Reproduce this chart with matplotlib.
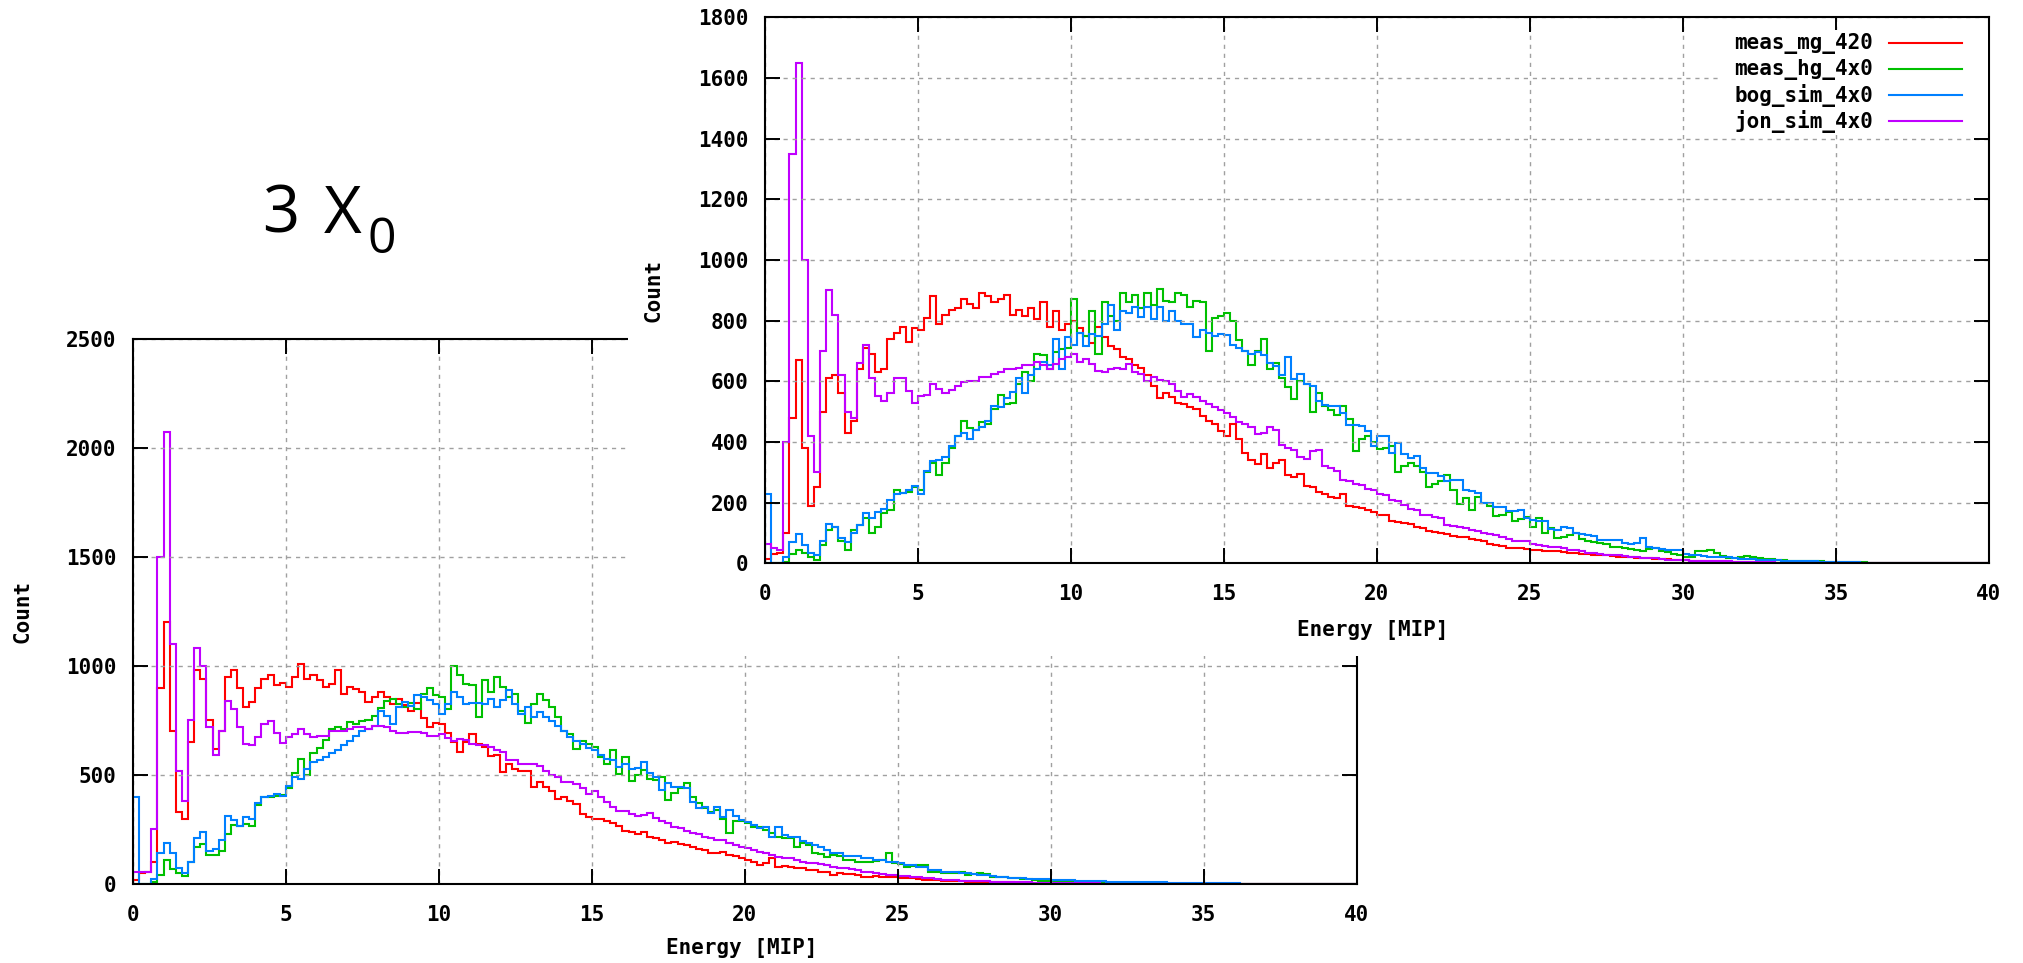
import numpy as np
import matplotlib
matplotlib.use("Agg")
import matplotlib.pyplot as plt
from matplotlib.lines import Line2D
from matplotlib.patches import Rectangle

# ---------------- data (counts per 0.2 MIP bin, 0..40 MIP) ----------------
BIN_WIDTH = 0.2
SERIES = ["meas_mg_420", "meas_hg_4x0", "bog_sim_4x0", "jon_sim_4x0"]
COLORS = ["#ff0000", "#00c000", "#0080ff", "#c000ff"]
X_TICKS = [0, 5, 10, 15, 20, 25, 30, 35, 40]
TOP_Y_TICKS = [0, 200, 400, 600, 800, 1000, 1200, 1400, 1600, 1800]
BOT_Y_TICKS = [0, 500, 1000, 1500, 2000, 2500]
TITLE_MAIN = "3 X"
TITLE_SUB = "0"

# upper panel (4 X0 comparison)
TOP_RED = [
    15, 30, 35, 100, 480, 670, 380, 190, 250, 500,
    610, 620, 560, 430, 470, 640, 710, 690, 630, 640,
    740, 760, 780, 730, 775, 770, 810, 880, 790, 820,
    835, 840, 870, 855, 840, 890, 880, 860, 870, 885,
    820, 835, 815, 840, 805, 860, 780, 830, 770, 790,
    800, 775, 750, 725, 780, 745, 715, 705, 680, 675,
    655, 645, 620, 585, 545, 560, 548, 530, 525, 514,
    510, 485, 470, 460, 436, 420, 460, 410, 365, 340,
    326, 360, 315, 330, 340, 290, 285, 295, 255, 250,
    235, 230, 220, 215, 230, 190, 185, 182, 175, 170,
    160, 158, 140, 135, 132, 128, 121, 118, 105, 104,
    99, 98, 90, 88, 86, 80, 77, 72, 62, 60,
    58, 52, 50, 50, 48, 45, 44, 42, 40, 39,
    38, 35, 33, 32, 30, 28, 27, 26, 23, 22,
    21, 20, 19, 17, 16, 15, 14, 13, 11, 10,
    10, 9, 8, 8, 7, 6, 6, 5, 5, 4,
    3, 3, 2, 2, 2, 1, 1, 1, 1, 0,
    1, 0, 0, 1, 0, 0, 0, 0, 0, 0,
    0, 0, 0, 0, 0, 1, 0, 0, 0, 0,
    0, 0, 0, 0, 0, 0, 0, 0, 0, 0,
]
TOP_GREEN = [
    0, 0, 0, 5, 30, 45, 35, 20, 12, 60,
    110, 120, 75, 45, 110, 127, 150, 100, 120, 165,
    175, 240, 232, 235, 250, 240, 300, 330, 290, 330,
    380, 420, 470, 445, 440, 465, 460, 510, 555, 525,
    530, 590, 630, 600, 690, 685, 640, 695, 705, 710,
    870, 760, 750, 830, 690, 860, 815, 800, 890, 860,
    885, 840, 890, 850, 905, 865, 860, 890, 885, 845,
    865, 860, 700, 810, 815, 825, 800, 735, 700, 655,
    700, 740, 640, 660, 610, 580, 540, 600, 590, 500,
    560, 518, 505, 490, 520, 475, 370, 410, 419, 400,
    378, 380, 385, 300, 320, 331, 320, 300, 253, 262,
    270, 292, 242, 195, 215, 176, 220, 200, 190, 155,
    160, 170, 140, 145, 152, 121, 150, 100, 115, 83,
    88, 92, 99, 80, 72, 70, 66, 62, 55, 55,
    50, 48, 45, 39, 48, 50, 42, 38, 31, 28,
    22, 22, 39, 40, 44, 35, 25, 17, 17, 20,
    24, 22, 17, 15, 14, 12, 10, 9, 8, 8,
    7, 6, 6, 5, 5, 4, 4, 3, 3, 3,
    2, 2, 2, 2, 1, 1, 1, 1, 1, 1,
    1, 0, 1, 0, 0, 1, 0, 0, 1, 1,
]
TOP_BLUE = [
    230, 0, 0, 20, 70, 95, 60, 35, 28, 75,
    130, 120, 85, 70, 100, 125, 165, 150, 168, 180,
    210, 230, 232, 240, 255, 230, 305, 337, 340, 350,
    385, 420, 430, 410, 440, 450, 470, 520, 515, 545,
    565, 610, 560, 620, 640, 665, 655, 740, 640, 745,
    720, 760, 715, 755, 750, 790, 850, 770, 830, 825,
    845, 812, 845, 805, 845, 800, 830, 800, 790, 790,
    745, 768, 760, 750, 755, 752, 718, 710, 700, 690,
    695, 685, 660, 650, 620, 680, 606, 625, 590, 584,
    534, 523, 520, 518, 496, 457, 455, 452, 435, 386,
    419, 420, 364, 397, 360, 347, 353, 314, 298, 298,
    287, 270, 275, 276, 242, 238, 231, 198, 200, 187,
    187, 171, 173, 176, 150, 143, 140, 138, 112, 110,
    121, 118, 99, 98, 94, 90, 77, 77, 76, 76,
    66, 65, 66, 83, 55, 52, 46, 45, 44, 43,
    30, 28, 27, 25, 22, 22, 21, 20, 18, 15,
    13, 13, 12, 12, 11, 10, 9, 8, 7, 7,
    6, 6, 5, 5, 4, 4, 3, 3, 3, 2,
    2, 2, 2, 2, 1, 1, 1, 1, 1, 1,
    1, 1, 1, 0, 1, 0, 0, 1, 0, 0,
]
TOP_PURPLE = [
    65, 50, 45, 400, 1350, 1650, 1000, 420, 300, 700,
    900, 820, 620, 500, 480, 660, 720, 610, 550, 536,
    560, 610, 610, 569, 530, 552, 555, 591, 575, 560,
    570, 586, 597, 600, 602, 613, 613, 624, 630, 641,
    641, 645, 652, 652, 663, 652, 641, 657, 674, 680,
    691, 663, 674, 657, 635, 630, 641, 645, 640, 657,
    630, 624, 602, 613, 605, 600, 591, 569, 547, 558,
    547, 536, 525, 514, 505, 497, 481, 465, 459, 448,
    425, 431, 448, 440, 390, 380, 375, 350, 345, 370,
    375, 320, 315, 305, 275, 270, 260, 258, 245, 240,
    230, 225, 210, 205, 192, 180, 175, 160, 158, 154,
    150, 125, 122, 120, 118, 110, 108, 100, 98, 92,
    88, 80, 75, 74, 72, 62, 60, 56, 55, 54,
    50, 45, 44, 40, 34, 33, 30, 28, 27, 26,
    24, 22, 20, 18, 17, 16, 15, 12, 11, 10,
    10, 9, 8, 8, 7, 7, 6, 6, 5, 5,
    4, 4, 3, 3, 3, 2, 2, 2, 1, 1,
    1, 1, 1, 0, 1, 0, 0, 0, 0, 0,
    0, 0, 0, 0, 0, 0, 0, 0, 0, 0,
    0, 0, 0, 0, 0, 0, 0, 0, 0, 0,
]

# lower panel (3 X0)
BOT_RED = [
    20, 50, 55, 100, 900, 1200, 700, 330, 300, 650,
    980, 940, 750, 620, 700, 950, 980, 900, 810, 835,
    900, 940, 960, 910, 920, 902, 948, 1009, 940, 956,
    933, 902, 917, 979, 870, 902, 894, 879, 833, 856,
    880, 856, 826, 850, 820, 795, 830, 760, 720, 740,
    734, 690, 650, 604, 650, 688, 642, 627, 585, 589,
    512, 550, 527, 520, 520, 445, 466, 443, 428, 390,
    398, 380, 367, 321, 306, 300, 298, 290, 280, 268,
    245, 240, 229, 240, 215, 209, 202, 187, 194, 185,
    179, 171, 160, 156, 141, 141, 148, 133, 130, 118,
    110, 102, 87, 95, 118, 80, 84, 80, 72, 72,
    64, 64, 57, 55, 41, 49, 47, 45, 41, 34,
    34, 36, 34, 31, 31, 28, 26, 26, 24, 20,
    18, 18, 16, 15, 14, 12, 11, 11, 10, 9,
    8, 8, 7, 7, 6, 6, 5, 5, 4, 4,
    4, 3, 3, 3, 2, 2, 2, 2, 1, 1,
    1, 1, 1, 0, 1, 0, 0, 1, 0, 0,
    0, 0, 0, 0, 0, 0, 0, 0, 0, 0,
    0, 0, 0, 0, 0, 0, 0, 0, 0, 0,
    0, 0, 0, 0, 0, 0, 0, 0, 0, 0,
]
BOT_GREEN = [
    0, 0, 0, 10, 40, 110, 70, 50, 35, 100,
    170, 185, 135, 132, 150, 230, 270, 265, 275, 265,
    360, 400, 400, 405, 410, 440, 510, 573, 500, 600,
    625, 660, 710, 720, 711, 742, 734, 749, 752, 770,
    805, 840, 850, 826, 810, 830, 800, 870, 900, 864,
    856, 803, 1000, 956, 917, 910, 765, 933, 880, 948,
    902, 856, 871, 795, 740, 826, 871, 841, 810, 765,
    703, 688, 619, 657, 642, 627, 581, 550, 612, 505,
    581, 474, 500, 523, 480, 477, 490, 385, 416, 439,
    462, 401, 370, 347, 330, 339, 300, 232, 290, 290,
    278, 263, 260, 248, 232, 217, 209, 212, 171, 187,
    180, 141, 138, 125, 133, 130, 110, 110, 102, 102,
    102, 105, 110, 141, 95, 90, 80, 82, 87, 87,
    57, 57, 52, 49, 50, 55, 41, 45, 49, 45,
    34, 34, 30, 26, 26, 22, 21, 18, 15, 15,
    12, 11, 11, 10, 9, 8, 7, 7, 6, 6,
    5, 5, 4, 4, 3, 3, 3, 2, 2, 2,
    1, 1, 2, 1, 1, 0, 1, 0, 0, 1,
    0, 0, 0, 0, 0, 0, 0, 0, 0, 0,
    0, 0, 0, 0, 0, 0, 0, 0, 0, 0,
]
BOT_BLUE = [
    400, 0, 0, 25, 140, 190, 140, 75, 50, 100,
    210, 237, 150, 160, 200, 310, 295, 268, 306, 300,
    370, 398, 405, 413, 405, 451, 489, 482, 527, 558,
    570, 581, 600, 615, 635, 657, 680, 703, 711, 726,
    795, 772, 734, 810, 833, 818, 864, 856, 841, 826,
    780, 826, 879, 856, 826, 830, 830, 826, 849, 810,
    841, 887, 826, 780, 810, 765, 787, 765, 749, 726,
    703, 673, 657, 642, 625, 612, 589, 573, 566, 535,
    550, 527, 530, 560, 508, 492, 431, 462, 446, 446,
    440, 378, 347, 355, 324, 355, 309, 339, 310, 294,
    286, 271, 255, 263, 217, 263, 225, 217, 217, 195,
    187, 179, 170, 156, 141, 141, 128, 128, 130, 118,
    118, 110, 110, 102, 102, 95, 87, 87, 80, 78,
    64, 64, 57, 57, 56, 49, 49, 45, 41, 41,
    38, 34, 33, 26, 26, 26, 25, 24, 21, 21,
    20, 19, 18, 17, 15, 15, 14, 14, 13, 11,
    11, 10, 10, 9, 9, 8, 8, 7, 7, 6,
    6, 5, 5, 4, 4, 3, 4, 3, 6, 5,
    4, 2, 0, 0, 0, 0, 0, 0, 0, 0,
    0, 0, 0, 0, 0, 0, 0, 0, 0, 0,
]
BOT_PURPLE = [
    55, 55, 55, 250, 1500, 2070, 1100, 520, 380, 750,
    1080, 1000, 720, 590, 700, 840, 800, 720, 640, 635,
    673, 734, 746, 690, 645, 673, 688, 711, 688, 673,
    676, 680, 703, 700, 700, 711, 719, 719, 711, 726,
    726, 720, 703, 691, 691, 696, 696, 690, 680, 680,
    688, 670, 657, 665, 660, 642, 635, 635, 627, 615,
    604, 566, 566, 550, 550, 550, 540, 520, 500, 489,
    466, 466, 459, 440, 413, 428, 400, 375, 352, 336,
    336, 321, 313, 316, 324, 301, 290, 278, 263, 255,
    245, 232, 230, 217, 210, 202, 200, 187, 180, 171,
    165, 156, 148, 141, 133, 125, 118, 118, 110, 102,
    98, 95, 90, 87, 80, 72, 72, 70, 62, 57,
    55, 52, 45, 41, 39, 37, 35, 31, 30, 28,
    26, 24, 20, 18, 18, 16, 14, 14, 13, 12,
    11, 11, 10, 9, 8, 8, 7, 6, 6, 6,
    5, 5, 4, 4, 4, 3, 3, 3, 2, 2,
    2, 2, 1, 1, 1, 1, 1, 0, 0, 0,
    0, 0, 0, 0, 0, 0, 0, 0, 0, 0,
    0, 0, 0, 0, 0, 0, 0, 0, 0, 0,
    0, 0, 0, 0, 0, 0, 0, 0, 0, 0,
]

TOP_DATA = [TOP_RED, TOP_GREEN, TOP_BLUE, TOP_PURPLE]
BOT_DATA = [BOT_RED, BOT_GREEN, BOT_BLUE, BOT_PURPLE]

# ---------------- figure ----------------
plt.rcParams["font.family"] = ["DejaVu Sans Mono"]
plt.rcParams["font.weight"] = "bold"

W, H = 2024, 963
fig = plt.figure(figsize=(W / 100, H / 100), dpi=100)


def px_rect(left, top, right, bottom):
    return [left / W, 1 - bottom / H, (right - left) / W, (bottom - top) / H]


FS = 15


def style(ax, yticks, xlabel_pos, ylabel_pos):
    ax.set_xlim(X_TICKS[0], X_TICKS[-1])
    ax.set_ylim(yticks[0], yticks[-1])
    ax.set_xticks(X_TICKS)
    ax.set_yticks(yticks)
    ax.grid(True, color="#a0a0a0", linestyle=(0, (3, 3.5)), linewidth=1.0)
    ax.tick_params(direction="in", length=10.8, width=1.4, top=True, right=True,
                   labelsize=FS, colors="black")
    ax.tick_params(axis="x", pad=15)
    ax.tick_params(axis="y", pad=12)
    for lab in ax.get_xticklabels() + ax.get_yticklabels():
        lab.set_fontweight("bold")
    for s in ax.spines.values():
        s.set_linewidth(1.5)
        s.set_color("black")
    ax.set_xlabel("Energy [MIP]", fontsize=FS, fontweight="bold")
    ax.set_ylabel("Count", fontsize=FS, fontweight="bold")
    ax.xaxis.set_label_coords(*xlabel_pos)
    ax.yaxis.set_label_coords(*ylabel_pos)
    ax.xaxis.label.set_va("center")
    ax.yaxis.label.set_va("center")
    ax.yaxis.label.set_ha("center")


def draw_hists(ax, data):
    for vals, col in zip(data, COLORS):
        vals = np.asarray(vals, dtype=float)
        edges = np.arange(len(vals) + 1) * BIN_WIDTH
        ax.stairs(vals, edges, color=col, linewidth=1.5, baseline=0)


# lower (3 X0) panel
ax_b = fig.add_axes(px_rect(133, 338.5, 1356.6, 884), zorder=0)
draw_hists(ax_b, BOT_DATA)
style(ax_b, BOT_Y_TICKS, (0.4974, -0.117), (-0.0907, 0.5))

# white area of the overlaid upper plot
cover = Rectangle((628 / W, 1 - 656 / H), 1 - 628 / W, 656 / H,
                  transform=fig.transFigure, facecolor="white",
                  edgecolor="none", zorder=1)
fig.add_artist(cover)

# upper panel
ax_t = fig.add_axes(px_rect(765, 17.2, 1989, 563.3), zorder=2)
draw_hists(ax_t, TOP_DATA)
style(ax_t, TOP_Y_TICKS, (0.4967, -0.122), (-0.0915, 0.5))

# key (opaque box, text right of which sits the sample line)
key_box = Rectangle((1718 / W, 1 - 133 / H), (1988 - 1718) / W, (133 - 30) / H,
                    transform=fig.transFigure, facecolor="white",
                    edgecolor="none", zorder=3)
fig.add_artist(key_box)
for i, (name, col) in enumerate(zip(SERIES, COLORS)):
    y = 1 - (43.5 + 25.9 * i) / H
    fig.text(1873 / W, y, name, ha="right", va="center", fontsize=FS,
             fontweight="bold", zorder=4)
    fig.add_artist(Line2D([1889 / W, 1962 / W], [y, y], color=col,
                          linewidth=1.5, zorder=5))

# "3 X0" annotation
fig.text(262 / W, 1 - 232.7 / H, TITLE_MAIN[0], fontsize=47, family="Open Sans",
         fontweight="normal", ha="left", va="baseline", zorder=6)
fig.text(324 / W, 1 - 232.7 / H, TITLE_MAIN[-1], fontsize=47, family="Open Sans",
         fontweight="normal", ha="left", va="baseline", zorder=6)
fig.text(368 / W, 1 - 252.7 / H, TITLE_SUB, fontsize=36, family="Open Sans",
         fontweight="normal", ha="left", va="baseline", zorder=6)

fig.savefig("out.png", dpi=100, facecolor="white")
